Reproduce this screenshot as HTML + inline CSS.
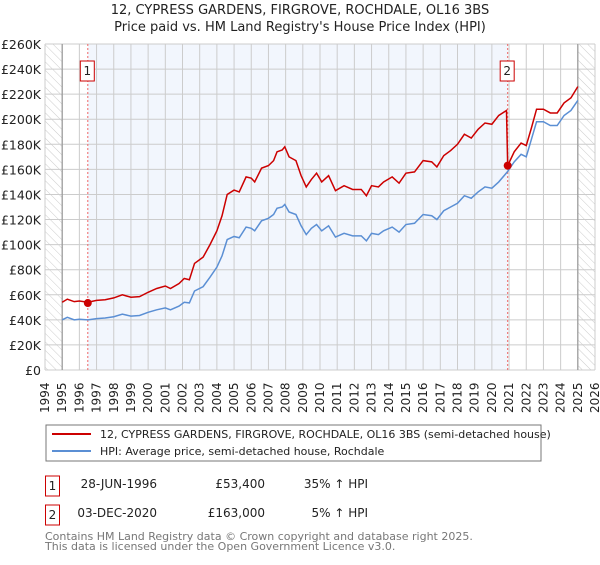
<!DOCTYPE html>
<html><head><meta charset="utf-8"><style>
body{margin:0;background:#fff;font-family:"Liberation Sans","DejaVu Sans",sans-serif;}
svg text{font-family:"DejaVu Sans","Liberation Sans",sans-serif;}
</style></head><body>
<svg id="chart" width="600" height="560" xmlns="http://www.w3.org/2000/svg">
<defs>
<pattern id="hatch" width="6" height="6" patternUnits="userSpaceOnUse" patternTransform="rotate(-45)">
<line x1="0" y1="0" x2="0" y2="6" stroke="#ccc" stroke-width="1"/></pattern>
</defs>
<text x="300" y="14" text-anchor="middle" font-size="13" fill="#222">12, CYPRESS GARDENS, FIRGROVE, ROCHDALE, OL16 3BS</text>
<text x="300" y="31" text-anchor="middle" font-size="13" fill="#222">Price paid vs. HM Land Registry's House Price Index (HPI)</text>
<g id="plot"></g>
<g>
<rect x="46" y="425" width="495" height="36" fill="#fff" stroke="#777"/>
<line x1="52" y1="434" x2="91" y2="434" stroke="#cc0000" stroke-width="2"/>
<text x="100" y="438" font-size="11" fill="#222">12, CYPRESS GARDENS, FIRGROVE, ROCHDALE, OL16 3BS (semi-detached house)</text>
<line x1="52" y1="451" x2="91" y2="451" stroke="#5b8fd4" stroke-width="2"/>
<text x="100" y="455" font-size="11" fill="#222">HPI: Average price, semi-detached house, Rochdale</text>
</g>
<g font-size="12" fill="#222">
<rect x="45.5" y="476" width="14" height="20" fill="#fff" stroke="#cc0000"/>
<text x="52.5" y="490" text-anchor="middle">1</text>
<text x="157" y="488" text-anchor="end">28-JUN-1996</text>
<text x="265" y="488" text-anchor="end">£53,400</text>
<text x="368" y="488" text-anchor="end">35% ↑ HPI</text>
<rect x="45.5" y="505" width="14" height="20" fill="#fff" stroke="#cc0000"/>
<text x="52.5" y="519" text-anchor="middle">2</text>
<text x="157" y="517" text-anchor="end">03-DEC-2020</text>
<text x="265" y="517" text-anchor="end">£163,000</text>
<text x="368" y="517" text-anchor="end">5% ↑ HPI</text>
</g>
<text x="45" y="540" font-size="11" fill="#777">Contains HM Land Registry data © Crown copyright and database right 2025.</text>
<text x="45" y="550" font-size="11" fill="#777">This data is licensed under the Open Government Licence v3.0.</text>
</svg>
<script>
const hpiYears=[1995.0,1995.3,1995.7,1996.0,1996.5,1997.0,1997.5,1998.0,1998.5,1999.0,1999.5,2000.0,2000.5,2001.0,2001.3,2001.8,2002.1,2002.4,2002.7,2003.2,2003.6,2004.0,2004.3,2004.6,2005.0,2005.3,2005.7,2006.0,2006.2,2006.6,2007.0,2007.3,2007.5,2007.8,2007.95,2008.2,2008.6,2008.9,2009.2,2009.5,2009.8,2010.1,2010.5,2010.9,2011.4,2011.9,2012.4,2012.7,2013.0,2013.4,2013.7,2014.2,2014.6,2015.0,2015.5,2016.0,2016.5,2016.8,2017.2,2017.6,2018.0,2018.4,2018.8,2019.2,2019.6,2020.0,2020.4,2020.9,2021.3,2021.7,2022.0,2022.3,2022.6,2023.0,2023.4,2023.8,2024.2,2024.6,2025.0];
const hpiValues=[40,42,40,40.5,40,41,41.5,42.5,44.5,43,43.5,46,48,49.5,48,51,54,53.5,63,66.5,74,82,91,104,106.5,105.5,114,113,111,119,121,124,129,130,132,126,124,115,108,113,116,111,115,106,109,107,107,103,109,108,111,114,110,116,117,124,123,120,127,130,133,139,137,142,146,145,150,158,166,172,170,184,198,198,195,195,203,207,215];
const propYears=[1995.0,1995.3,1995.7,1996.0,1996.5,1997.0,1997.5,1998.0,1998.5,1999.0,1999.5,2000.0,2000.5,2001.0,2001.3,2001.8,2002.1,2002.4,2002.7,2003.2,2003.6,2004.0,2004.3,2004.6,2005.0,2005.3,2005.7,2006.0,2006.2,2006.6,2007.0,2007.3,2007.5,2007.8,2007.95,2008.2,2008.6,2008.9,2009.2,2009.5,2009.8,2010.1,2010.5,2010.9,2011.4,2011.9,2012.4,2012.7,2013.0,2013.4,2013.7,2014.2,2014.6,2015.0,2015.5,2016.0,2016.5,2016.8,2017.2,2017.6,2018.0,2018.4,2018.8,2019.2,2019.6,2020.0,2020.4,2020.85,2020.92,2021.3,2021.7,2022.0,2022.3,2022.6,2023.0,2023.4,2023.8,2024.2,2024.6,2025.0];
const propValues=[54,56.5,54.5,55,54,55.5,56,57.5,60,58,58.5,62,65,67,65,69,73,72,85,90,100,111,123,140,143.5,142,154,153,150,161,163,167,174,175.5,178,170,167,155,146,152,157,150,155,143,147,144,144,139,147,146,150,154,149,157,158,167,166,162,171,175,180,188,185,192,197,196,203,207,163,174,181,179,193,208,208,205,205,213,217,226];
const saleYears=[1996.49,2020.92];
const saleValues=[53.4,163];
const saleLabels=["1","2"];
const yTicks=[0,20,40,60,80,100,120,140,160,180,200,220,240,260];
const yTickLabels=["£0","£20K","£40K","£60K","£80K","£100K","£120K","£140K","£160K","£180K","£200K","£220K","£240K","£260K"];
const xTicks=[1994,1995,1996,1997,1998,1999,2000,2001,2002,2003,2004,2005,2006,2007,2008,2009,2010,2011,2012,2013,2014,2015,2016,2017,2018,2019,2020,2021,2022,2023,2024,2025,2026];

const X0=45,X1=595,Y0=370,Y1=44,yrMin=1994,yrMax=2026,vMax=260,dataStart=1995,dataEnd=2025.0;
const xs=y=>X0+(y-yrMin)/(yrMax-yrMin)*(X1-X0);
const ys=v=>Y0-v/vMax*(Y0-Y1);
const NS="http://www.w3.org/2000/svg";
const g=document.getElementById('plot');
function mk(tag,attrs){const e=document.createElementNS(NS,tag);for(const k in attrs)e.setAttribute(k,attrs[k]);g.appendChild(e);return e;}
let e;
e=mk('rect',{x:X0,y:Y1,width:X1-X0,height:Y0-Y1,fill:'#fff'});


e=mk('rect',{x:xs(saleYears[0]),y:Y1,width:xs(saleYears[1])-xs(saleYears[0]),height:Y0-Y1,fill:'#f2f6fd'});


e=mk('rect',{x:X0,y:Y1,width:xs(dataStart)-X0,height:Y0-Y1,fill:'url(#hatch)'});


e=mk('rect',{x:xs(dataEnd),y:Y1,width:X1-xs(dataEnd),height:Y0-Y1,fill:'url(#hatch)'});


xTicks.forEach(t=>{
 e=mk('line',{x1:xs(t),x2:xs(t),y1:Y1,y2:Y0,stroke:'#ccc','stroke-width':1});
 
 
 const tx=xs(t)+4;
 e=mk('text',{x:0,y:0,transform:`translate(${tx},413) rotate(-90)`,'font-size':12,fill:'#222'});
 e.textContent=t;
 
 
});
yTicks.forEach((t,i)=>{
 e=mk('line',{x1:X0,x2:X1,y1:ys(t),y2:ys(t),stroke:'#ccc','stroke-width':1});
 
 
 e=mk('text',{x:41,y:ys(t)+5,'text-anchor':'end','font-size':12.5,fill:'#222'});
 e.textContent=yTickLabels[i];
 
 
});
e=mk('line',{x1:xs(dataStart),x2:xs(dataStart),y1:Y1,y2:Y0,stroke:'#999','stroke-width':1.2});


e=mk('line',{x1:xs(dataEnd),x2:xs(dataEnd),y1:Y1,y2:Y0,stroke:'#999','stroke-width':1.2});


saleYears.forEach((s,i)=>{
 e=mk('line',{x1:xs(s),x2:xs(s),y1:Y1,y2:Y0,stroke:'#e66','stroke-width':1,'stroke-dasharray':'2,2'});
 
 
});
e=mk('polyline',{points:hpiYears.map((y,i)=>xs(y)+','+ys(hpiValues[i])).join(' '),fill:'none',stroke:'#5b8fd4','stroke-width':1.5});


e=mk('polyline',{points:propYears.map((y,i)=>xs(y)+','+ys(propValues[i])).join(' '),fill:'none',stroke:'#cc0000','stroke-width':1.5});


saleYears.forEach((s,i)=>{
 e=mk('circle',{cx:xs(s),cy:ys(saleValues[i]),r:4,fill:'#cc0000'});
 
 
 e=mk('rect',{x:xs(s)-7.5,y:61,width:14,height:20,fill:'#fff',stroke:'#cc0000'});
 
 
 e=mk('text',{x:xs(s)-0.5,y:75,'text-anchor':'middle','font-size':12,fill:'#222'});
 e.textContent=saleLabels[i];
 
 
});
</script>
</body></html>
